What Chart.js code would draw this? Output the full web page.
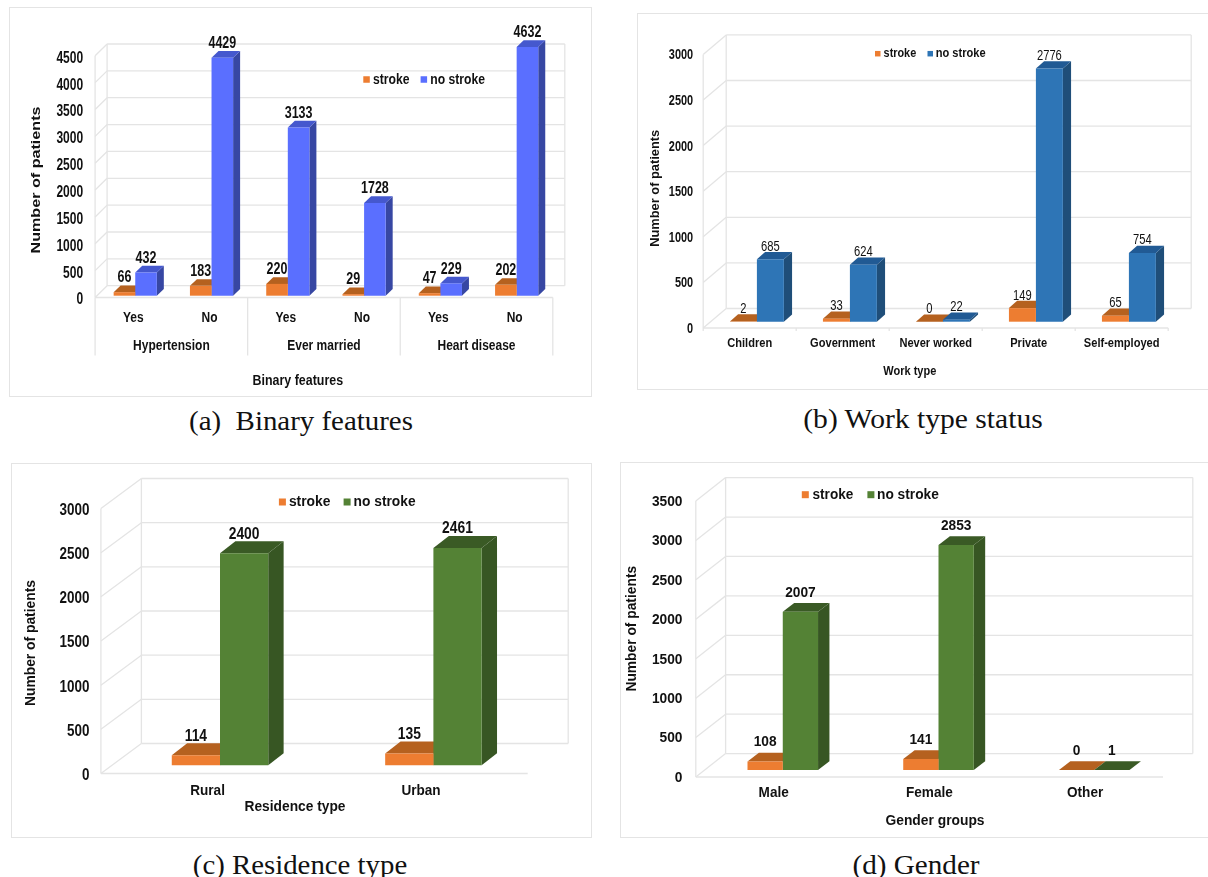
<!DOCTYPE html>
<html>
<head>
<meta charset="utf-8">
<title>Stroke patients by feature</title>
<script src="https://cdn.jsdelivr.net/npm/chart.js@4"></script>
<style>
    html, body { margin: 0; padding: 0; background: #fff; }
    #page { position: relative; width: 1208px; height: 877px; overflow: hidden; }
    .frame { position: absolute; box-sizing: border-box; border: 1px solid #e4e4e4; }
    .frame canvas { position: absolute; left: -1px; top: -1px; }
    .caption {
        position: absolute;
        font-family: "Liberation Serif", serif;
        font-size: 27px;
        color: #111;
        white-space: pre;
    }
</style>
</head>
<body>
<div id="page"></div>
<script>
const seriesNames = ['stroke', 'no stroke'];

const binaryGroups = ['Hypertension', 'Ever married', 'Heart disease'];
const binaryCategories = ['Yes', 'No', 'Yes', 'No', 'Yes', 'No'];
const binaryStroke = [66, 183, 220, 29, 47, 202];
const binaryNoStroke = [432, 4429, 3133, 1728, 229, 4632];

const workCategories = ['Children', 'Government', 'Never worked', 'Private', 'Self-employed'];
const workStroke = [2, 33, 0, 149, 65];
const workNoStroke = [685, 624, 22, 2776, 754];

const residenceCategories = ['Rural', 'Urban'];
const residenceStroke = [114, 135];
const residenceNoStroke = [2400, 2461];

const genderCategories = ['Male', 'Female', 'Other'];
const genderStroke = [108, 141, 0];
const genderNoStroke = [2007, 2853, 1];

const SANS = '"Liberation Sans", sans-serif';
const ORANGE = { front: '#ED7D31', top: '#B5611F', side: '#A9561A' };
const GRID = '#e4e4e4';

// Page coordinates for each panel; the depth of the box and bars is a plain x/y shift
const panels = [
    {
        caption: '(a)  Binary features', capX: 301, capY: 421, capScale: 1.07,
        frame: [9, 7, 592, 397], axis: { left: 95.1, right: 552.8, top: 55.8, bottom: 297.5 },
        categories: binaryCategories, stroke: binaryStroke, noStroke: binaryNoStroke, groups: binaryGroups,
        max: 4500, barFrac: 0.566, bar: [2, -1.8], depth: [7, 6.7], wall: [12, 11.8],
        colors: { front: '#5A6FFF', top: '#4558CE', side: '#3747A3' },
        tickFont: 'bold 16px ' + SANS, tickSqueeze: 0.75, tickPad: 12, tickShift: 2.5,
        catFont: 'bold 15px ' + SANS, catSqueeze: 0.8, catY: 317.7, groupY: 346,
        labelFont: 'bold 16px ' + SANS, labelSqueeze: 0.78, labelLift: 14.3,
        xTitle: ['Binary features', 297.8, 381, 90.5, 'bold 14px ' + SANS],
        yTitle: ['Number of patients', 36.2, 180, 147, 'bold 13px ' + SANS],
        legend: { y: 79.5, size: 6.5, font: 'bold 15px ' + SANS,
            squares: [363.3, 420.6], texts: [[372.9, 36.6], [430.3, 54.7]] }
    },
    {
        caption: '(b) Work type status', capX: 923, capY: 419, capScale: 1.096,
        frame: [637, 13, 1212, 390], axis: { left: 703.2, right: 1168.2, top: 54.4, bottom: 328 },
        categories: workCategories, stroke: workStroke, noStroke: workNoStroke,
        max: 3000, barFrac: 0.58, bar: [7.2, -6.3], depth: [8.2, 7.3], wall: [23, 19.5],
        colors: { front: '#2E75B6', top: '#215A94', side: '#1F4E79' },
        tickFont: 'bold 14.4px ' + SANS, tickSqueeze: 0.76, tickPad: 10, tickShift: 1,
        catFont: 'bold 13.5px ' + SANS, catSqueeze: 0.82, catY: 343.3, catTicks: true,
        labelFont: '14px ' + SANS, labelSqueeze: 0.8, labelLift: 12.3,
        xTitle: ['Work type', 909.8, 371.7, 53, 'bold 13.5px ' + SANS],
        yTitle: ['Number of patients', 655.6, 188.3, 117, 'bold 12px ' + SANS],
        legend: { y: 53.7, size: 5.5, font: 'bold 13px ' + SANS,
            squares: [875, 927.5], texts: [[883.6, 32.6], [935.7, 49.9]] }
    },
    {
        caption: '(c) Residence type', capX: 300, capY: 865, capScale: 1.067,
        frame: [11, 463, 592, 838], axis: { left: 100.9, right: 527.7, top: 508.5, bottom: 773.5 },
        categories: residenceCategories, stroke: residenceStroke, noStroke: residenceNoStroke,
        max: 3000, barFrac: 0.452, bar: [12.4, -8.2], depth: [15.4, 12], wall: [40.5, 30],
        colors: { front: '#548235', top: '#3A5A25', side: '#375623' },
        tickFont: 'bold 16px ' + SANS, tickSqueeze: 0.84, tickPad: 11.5, tickShift: 2,
        catFont: 'bold 15.5px ' + SANS, catSqueeze: 0.875, catY: 790.7,
        labelFont: 'bold 16px ' + SANS, labelSqueeze: 0.865, labelLift: 19,
        xTitle: ['Residence type', 295, 806.7, 101, 'bold 15px ' + SANS],
        yTitle: ['Number of patients', 31.2, 643, 126, 'bold 14px ' + SANS],
        legend: { y: 502, size: 7, font: 'bold 14.5px ' + SANS,
            squares: [278.9, 343.6], texts: [[288.9, 41.6], [353.6, 62]] }
    },
    {
        caption: '(d) Gender', capX: 915.7, capY: 865, capScale: 1.08,
        frame: [620, 462, 1212, 838], axis: { left: 695.8, right: 1163, top: 501, bottom: 777 },
        categories: genderCategories, stroke: genderStroke, noStroke: genderNoStroke,
        max: 3500, barFrac: 0.453, bar: [9.1, -7], depth: [11.4, 8.7], wall: [29.8, 23.4],
        colors: { front: '#548235', top: '#3A5A25', side: '#375623' },
        tickFont: 'bold 14px ' + SANS, tickSqueeze: 0.98, tickPad: 13.3, tickShift: 1,
        catFont: 'bold 14px ' + SANS, catSqueeze: 0.97, catY: 793.3,
        labelFont: 'bold 14px ' + SANS, labelSqueeze: 0.98, labelLift: 19,
        xTitle: ['Gender groups', 935, 821.3, 99, 'bold 14px ' + SANS],
        yTitle: ['Number of patients', 632, 628.7, 125.7, 'bold 14px ' + SANS],
        legend: { y: 494.7, size: 7, font: 'bold 14px ' + SANS,
            squares: [801.8, 867.4], texts: [[812.5, 40.8], [877, 61.8]] }
    }
];

// No condensed face is installed, so narrow labels are squeezed with a canvas scale.
// opts.width fits the text to an exact width, opts.squeeze is a plain factor.
function putText(ctx, text, x, y, font, opts = {}) {
    ctx.save();
    ctx.font = font;
    ctx.fillStyle = '#111';
    ctx.textBaseline = 'middle';
    ctx.textAlign = opts.align || 'center';
    const sx = opts.width ? opts.width / ctx.measureText(text).width : (opts.squeeze || 1);
    ctx.translate(x, y);
    if (opts.vertical) ctx.rotate(-Math.PI / 2);
    ctx.scale(sx, 1);
    ctx.fillText(text, 0, 0);
    ctx.restore();
}

function poly(ctx, color, pts) {
    ctx.fillStyle = color;
    ctx.beginPath();
    pts.forEach((p, i) => i ? ctx.lineTo(p[0], p[1]) : ctx.moveTo(p[0], p[1]));
    ctx.closePath();
    ctx.fill();
}

function line(ctx, x1, y1, x2, y2) {
    ctx.beginPath();
    ctx.moveTo(x1, y1);
    ctx.lineTo(x2, y2);
    ctx.stroke();
}

// Back wall, side wall and floor of the box, axis labels, and the top and side faces of each bar
const box3d = {
    id: 'box3d',
    beforeDatasetsDraw(chart, args, opts) {
        const { ctx, chartArea: area, scales: { x, y } } = chart;
        const p = opts.panel;
        const [fx, fy] = p.frame;
        const [wx, wy] = p.wall;

        ctx.save();
        ctx.strokeStyle = GRID;
        ctx.lineWidth = 1.3;
        y.ticks.forEach(t => {
            const py = y.getPixelForValue(t.value);
            line(ctx, area.left, py, area.left + wx, py - wy);
            line(ctx, area.left + wx, py - wy, area.right + wx, py - wy);
            putText(ctx, String(t.value), area.left - p.tickPad, py + p.tickShift, p.tickFont, { align: 'right', squeeze: p.tickSqueeze });
        });
        line(ctx, area.left, area.top, area.left, area.bottom);
        line(ctx, area.left + wx, area.top - wy, area.left + wx, area.bottom - wy);
        line(ctx, area.right + wx, area.top - wy, area.right + wx, area.bottom - wy);
        line(ctx, area.left, area.bottom, area.right, area.bottom);

        p.categories.forEach((name, i) => {
            putText(ctx, name, x.getPixelForTick(i), p.catY - fy, p.catFont, { squeeze: p.catSqueeze });
        });
        if (p.catTicks) {
            const step = x.width / p.categories.length;
            for (let i = 0; i <= p.categories.length; i++) {
                line(ctx, area.left + i * step, area.bottom, area.left + i * step, area.bottom + 3);
            }
        }
        if (p.groups) {
            const step = x.width / p.groups.length;
            p.groups.forEach((name, i) => {
                putText(ctx, name, area.left + (i + 0.5) * step, p.groupY - fy, p.catFont, { squeeze: p.catSqueeze });
            });
            for (let i = 0; i <= p.groups.length; i++) {
                line(ctx, area.left + i * step, area.bottom, area.left + i * step, area.bottom + 58);
            }
        }
        ctx.restore();

        // left open on purpose: the bars are drawn in this shifted position too
        ctx.save();
        ctx.translate(p.bar[0], p.bar[1]);
        const [dx, dy] = p.depth;
        chart.data.datasets.forEach((ds, i) => {
            chart.getDatasetMeta(i).data.forEach(bar => {
                const l = bar.x - bar.width / 2;
                const r = bar.x + bar.width / 2;
                if (bar.base - bar.y > 0.5) {
                    poly(ctx, ds.sideColor, [[r, bar.y], [r + dx, bar.y - dy], [r + dx, bar.base - dy], [r, bar.base]]);
                }
                poly(ctx, ds.topColor, [[l, bar.y], [r, bar.y], [r + dx, bar.y - dy], [l + dx, bar.y - dy]]);
            });
        });
    },
    afterDatasetsDraw(chart, args, opts) {
        const { ctx } = chart;
        const p = opts.panel;
        const [fx, fy] = p.frame;
        ctx.restore();

        // value labels sit above the top face of each bar
        chart.data.datasets.forEach((ds, i) => {
            chart.getDatasetMeta(i).data.forEach((bar, j) => {
                putText(ctx, String(ds.data[j]), bar.x + p.bar[0], bar.y + p.bar[1] - p.labelLift, p.labelFont, { squeeze: p.labelSqueeze });
            });
        });

        const xt = p.xTitle;
        putText(ctx, xt[0], xt[1] - fx, xt[2] - fy, xt[4], { width: xt[3] });
        const yt = p.yTitle;
        putText(ctx, yt[0], yt[1] - fx, yt[2] - fy, yt[4], { width: yt[3], vertical: true });

        const lg = p.legend;
        chart.data.datasets.forEach((ds, i) => {
            ctx.fillStyle = ds.backgroundColor;
            ctx.fillRect(lg.squares[i] - fx, lg.y - lg.size / 2 - fy, lg.size, lg.size);
            putText(ctx, ds.label, lg.texts[i][0] - fx, lg.y - fy, lg.font, { align: 'left', width: lg.texts[i][1] });
        });
    }
};

function buildPanel(p) {
    const page = document.getElementById('page');
    const [x1, y1, x2, y2] = p.frame;
    const w = x2 - x1;
    const h = y2 - y1;

    const div = document.createElement('div');
    div.className = 'frame';
    div.style.cssText = `left:${x1}px;top:${y1}px;width:${w}px;height:${h}px`;
    const canvas = document.createElement('canvas');
    canvas.width = w;
    canvas.height = h;
    div.appendChild(canvas);
    page.appendChild(div);

    const cap = document.createElement('div');
    cap.className = 'caption';
    cap.textContent = p.caption;
    cap.style.cssText = `left:${p.capX}px;top:${p.capY}px;transform:translate(-50%,-50%) scaleX(${p.capScale})`;
    page.appendChild(cap);

    const hidden = { display: false, drawTicks: false };
    new Chart(canvas, {
        type: 'bar',
        data: {
            labels: p.categories,
            datasets: [
                { label: seriesNames[0], data: p.stroke, backgroundColor: ORANGE.front, topColor: ORANGE.top, sideColor: ORANGE.side, clip: false },
                { label: seriesNames[1], data: p.noStroke, backgroundColor: p.colors.front, topColor: p.colors.top, sideColor: p.colors.side, clip: false }
            ]
        },
        options: {
            responsive: false,
            animation: false,
            devicePixelRatio: 1,
            layout: { padding: { left: 0, bottom: 0, top: p.axis.top - y1, right: x2 - p.axis.right } },
            datasets: { bar: { barPercentage: 1, categoryPercentage: p.barFrac } },
            plugins: { legend: { display: false }, tooltip: { enabled: false }, box3d: { panel: p } },
            scales: {
                x: {
                    grid: hidden,
                    border: { display: false },
                    ticks: { display: false },
                    afterFit: s => { s.height = y2 - p.axis.bottom; }
                },
                y: {
                    min: 0,
                    max: p.max,
                    grid: hidden,
                    border: { display: false },
                    ticks: { display: false, stepSize: 500 },
                    afterFit: s => { s.width = p.axis.left - x1; }
                }
            }
        },
        plugins: [box3d]
    });
}

panels.forEach(buildPanel);
</script>
</body>
</html>
